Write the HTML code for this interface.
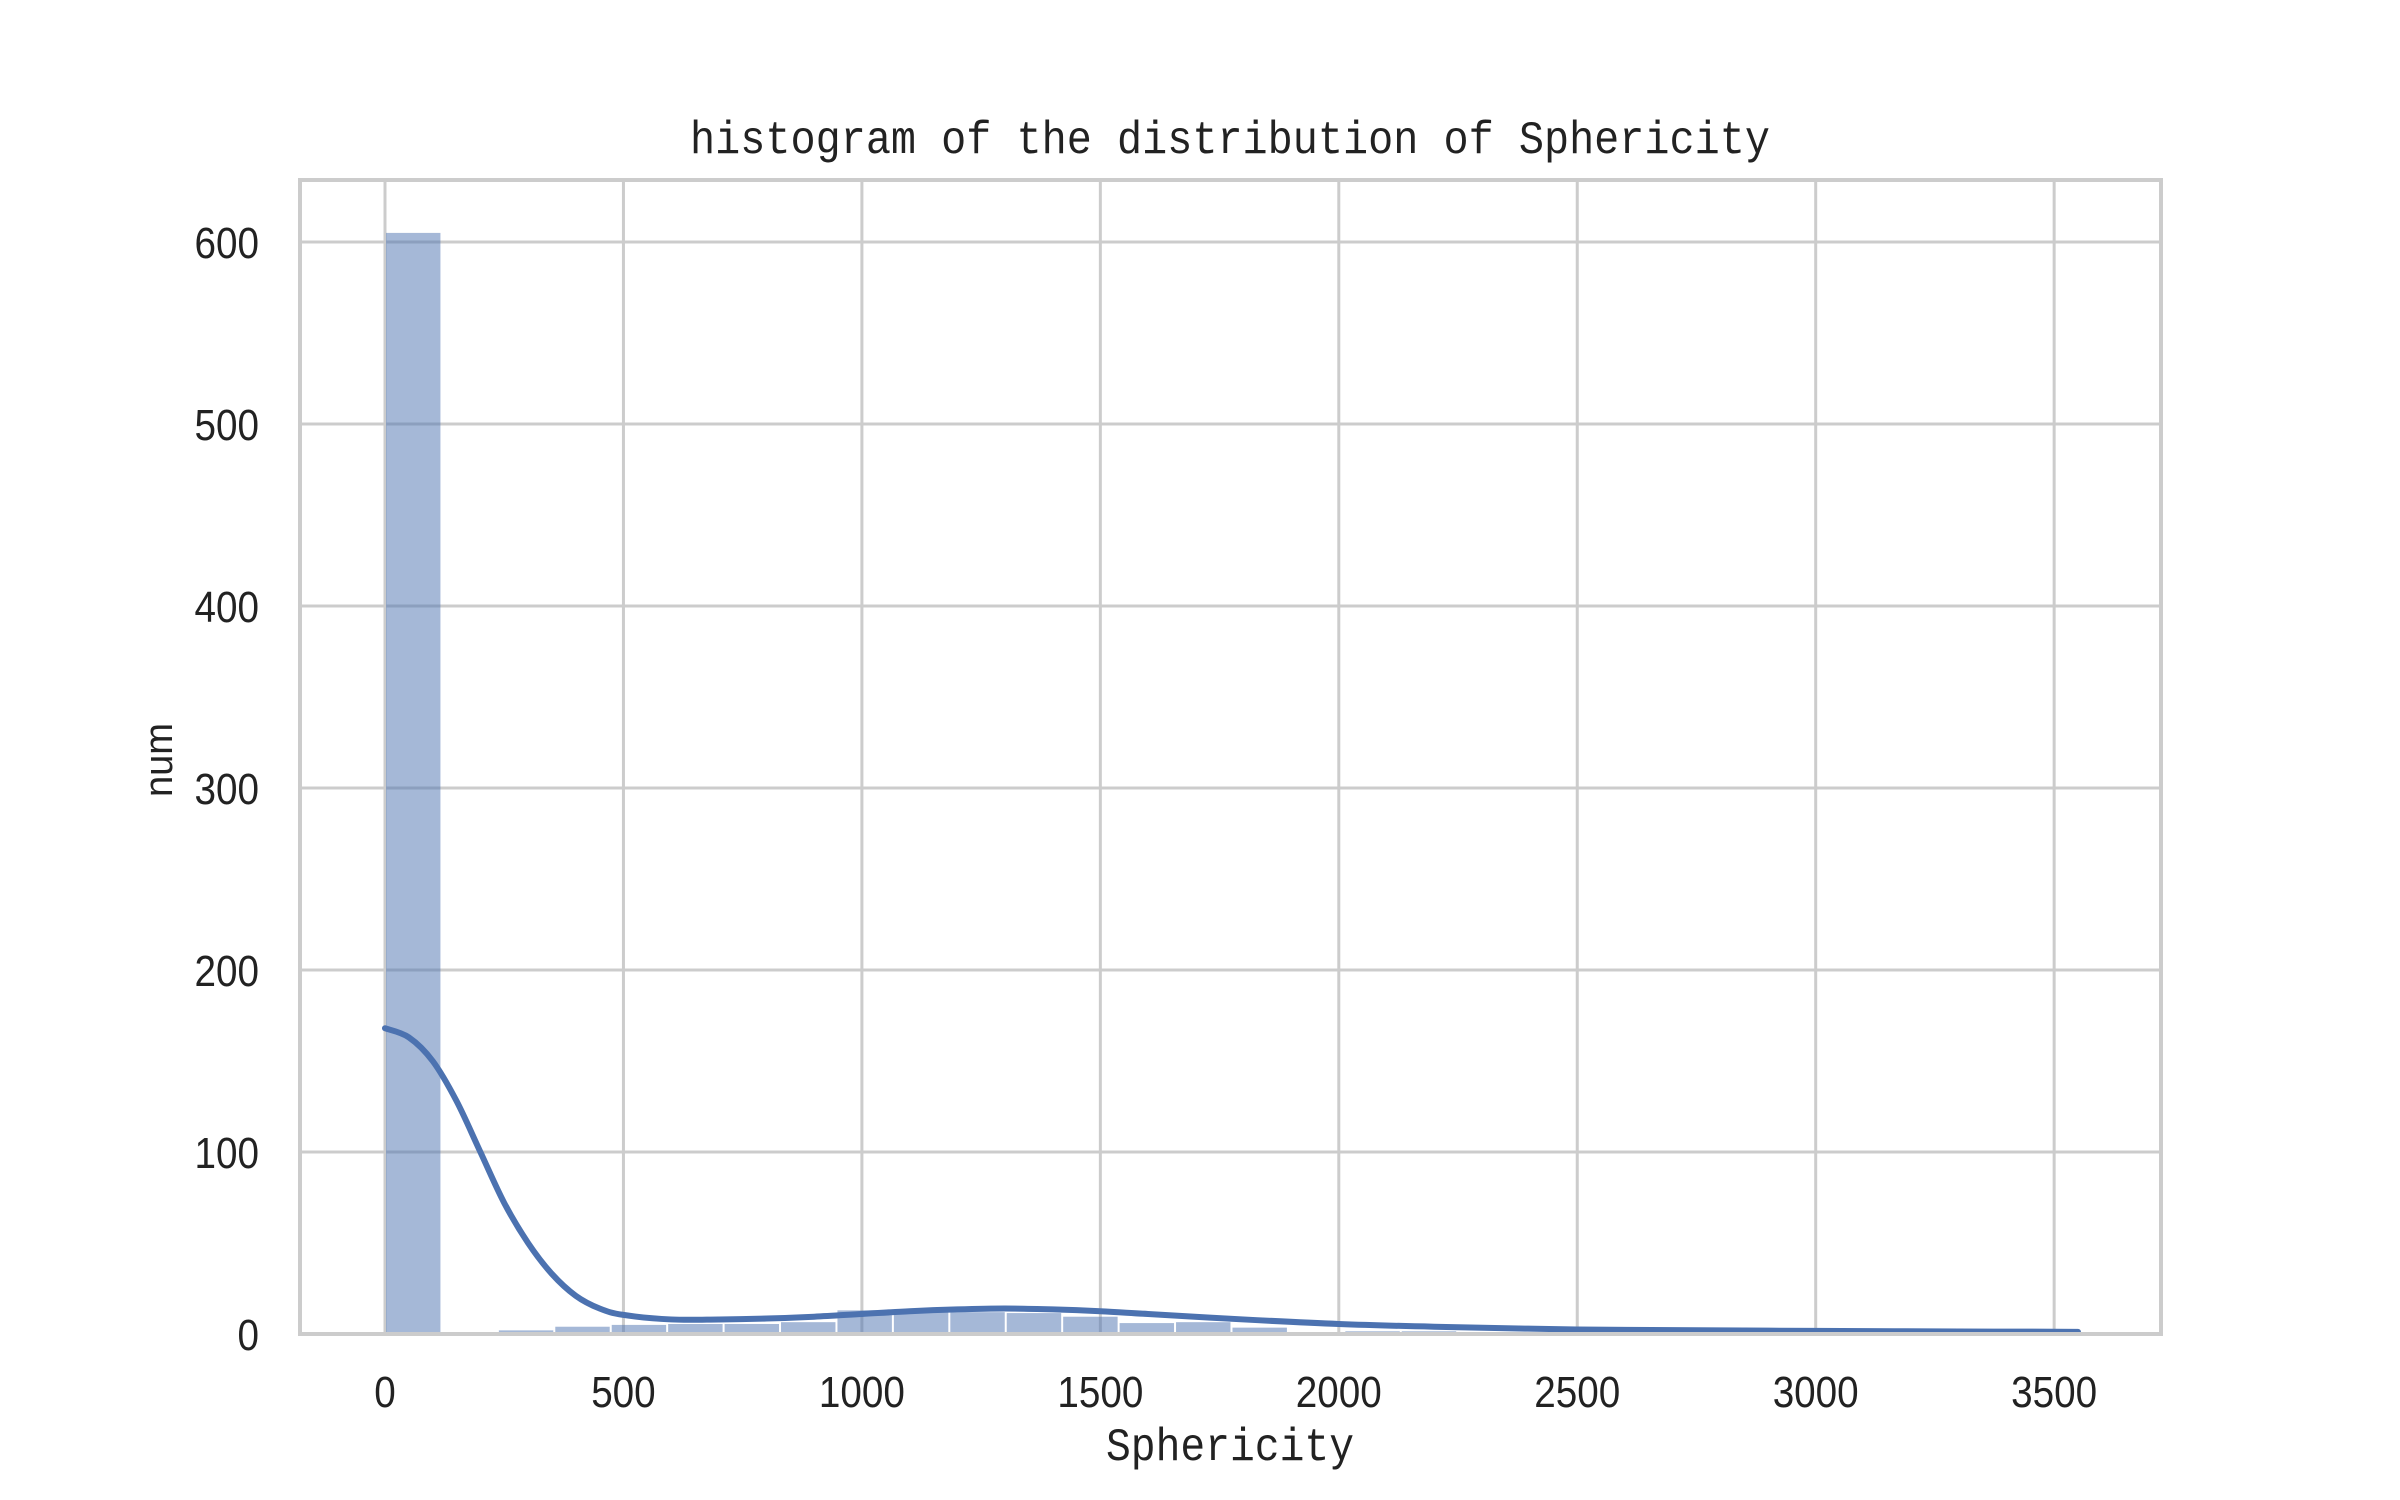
<!DOCTYPE html>
<html><head><meta charset="utf-8"><style>
html,body{margin:0;padding:0;background:#fff;}
svg{display:block;}
</style></head><body>
<svg id="chart" width="2400" height="1500" viewBox="0 0 2400 1500" xmlns="http://www.w3.org/2000/svg">
<rect x="0" y="0" width="2400" height="1500" fill="#ffffff"/>
<g id="grid"></g>
<g id="bars"></g>
<g id="kde"></g>
<rect x="300" y="180" width="1861" height="1154" fill="none" stroke="#cccccc" stroke-width="4"/>
<g id="ticks"></g>
<text x="1230" y="153" text-anchor="middle" font-family="Liberation Mono, monospace" font-size="46" textLength="1080" lengthAdjust="spacingAndGlyphs" fill="#222">histogram of the distribution of Sphericity</text>
<text x="1230" y="1460" text-anchor="middle" font-family="Liberation Mono, monospace" font-size="46" textLength="248" lengthAdjust="spacingAndGlyphs" fill="#222">Sphericity</text>
<text transform="translate(172,760) rotate(-90)" text-anchor="middle" font-family="Liberation Sans, sans-serif" font-size="40" textLength="74" lengthAdjust="spacingAndGlyphs" fill="#222">num</text>
</svg>
<script>
const binStart = 0;
const binWidth = 118.33;
const binCounts = [605,0,2,4,5,5.5,5.5,6.5,13,12,12,11.5,9.5,6,6.5,3.5,0,1.5,1.5,1,0,0,0,0,0,0,0,0,0,0];
const kdeX = [0,50,100,150,200,250,300,350,400,450,500,600,700,800,900,1000,1100,1200,1300,1400,1500,1600,1800,2000,2200,2500,2800,3000,3300,3550];
const kdeY = [168,163,150,128,100,72,50,33,21,14,10.5,8,8,8.5,9.5,11,12.5,13.5,14,13.5,12.5,11,8,5.5,4,2.5,2,1.7,1.4,1.2];
const xTicks = [0,500,1000,1500,2000,2500,3000,3500];
const yTicks = [0,100,200,300,400,500,600];

const NS = 'http://www.w3.org/2000/svg';
const X0 = 385, XS = 0.4769, Y0 = 1334, YS = 1.82;
const PL = 300, PR = 2161, PT = 180, PB = 1334;
function sx(v){ return X0 + v*XS; }
function sy(v){ return Y0 - v*YS; }
function mk(tag, attrs){ const e=document.createElementNS(NS,tag); for(const k in attrs) e.setAttribute(k,attrs[k]); return e; }

const grid = document.getElementById('grid');
xTicks.forEach(t=>{
  const l = mk('line',{x1:sx(t),x2:sx(t),y1:PT,y2:PB,stroke:'#cccccc','stroke-width':3});
  
  
  grid.appendChild(l);
});
yTicks.forEach(t=>{
  const l = mk('line',{x1:PL,x2:PR,y1:sy(t),y2:sy(t),stroke:'#cccccc','stroke-width':3});
  
  
  grid.appendChild(l);
});

const bars = document.getElementById('bars');
binCounts.forEach((c,i)=>{
  if(c<=0) return;
  const x1 = sx(binStart + i*binWidth), x2 = sx(binStart + (i+1)*binWidth);
  const r = mk('rect',{x:x1+1,y:sy(c),width:x2-x1-2,height:Y0-sy(c),fill:'#4c72b0','fill-opacity':0.5});
  
  
  bars.appendChild(r);
});

const pts = kdeX.map((v,i)=>[sx(v), sy(kdeY[i])]);
let d = 'M'+pts[0][0]+','+pts[0][1];
for(let i=0;i<pts.length-1;i++){
  const p0 = pts[Math.max(0,i-1)], p1 = pts[i], p2 = pts[i+1], p3 = pts[Math.min(pts.length-1,i+2)];
  const c1x = p1[0]+(p2[0]-p0[0])/6, c1y = p1[1]+(p2[1]-p0[1])/6;
  const c2x = p2[0]-(p3[0]-p1[0])/6, c2y = p2[1]-(p3[1]-p1[1])/6;
  d += ' C'+c1x+','+c1y+' '+c2x+','+c2y+' '+p2[0]+','+p2[1];
}
const kp = mk('path',{d:d,fill:'none',stroke:'#4c72b0','stroke-width':6,'stroke-linecap':'round'});


document.getElementById('kde').appendChild(kp);

const ticks = document.getElementById('ticks');
xTicks.forEach(t=>{
  const s = String(t);
  const tx = mk('text',{x:sx(t),y:1407,'text-anchor':'middle','font-family':'Liberation Sans, sans-serif','font-size':44,fill:'#222',textLength:s.length*21.5,lengthAdjust:'spacingAndGlyphs'});
  tx.textContent = s;
  
  
  ticks.appendChild(tx);
});
yTicks.forEach(t=>{
  const s = String(t);
  const tx = mk('text',{x:259,y:sy(t)+16,'text-anchor':'end','font-family':'Liberation Sans, sans-serif','font-size':44,fill:'#222',textLength:s.length*21.5,lengthAdjust:'spacingAndGlyphs'});
  tx.textContent = s;
  
  
  ticks.appendChild(tx);
});
</script>
</body></html>
